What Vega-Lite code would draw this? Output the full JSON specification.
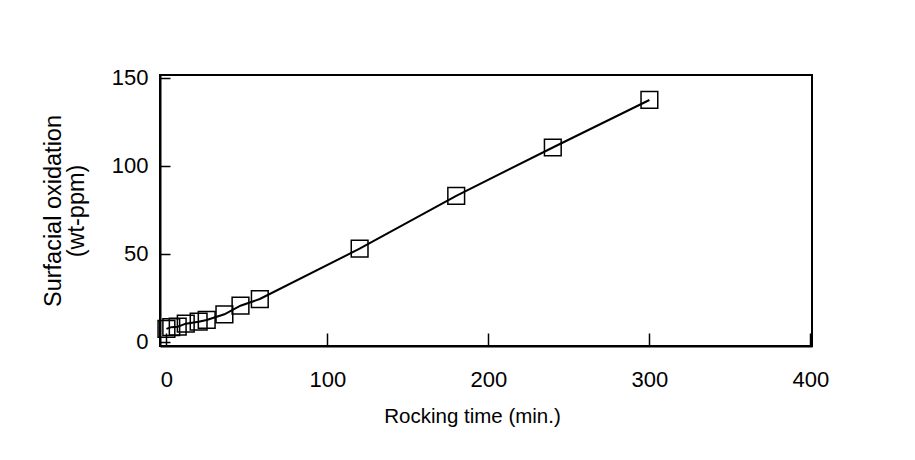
{
  "$schema": "https://vega.github.io/schema/vega-lite/v6.json",
  "autosize": "none",
  "width": 652,
  "height": 271,
  "padding": {"left": 160, "top": 75, "right": 103, "bottom": 114},
  "background": "white",
  "data": {
    "values": [
      {"time": 0, "ox": 7.4},
      {"time": 3, "ox": 8.4},
      {"time": 7, "ox": 8.7},
      {"time": 12, "ox": 10.4},
      {"time": 20, "ox": 11.5},
      {"time": 25, "ox": 12.5},
      {"time": 36, "ox": 15.7},
      {"time": 46, "ox": 20.6},
      {"time": 58, "ox": 24.4},
      {"time": 120, "ox": 53},
      {"time": 180, "ox": 83},
      {"time": 240, "ox": 110.5},
      {"time": 300, "ox": 137.5}
    ]
  },
  "encoding": {
    "x": {
      "field": "time",
      "type": "quantitative",
      "scale": {"domain": [-4, 401], "nice": false, "zero": false},
      "axis": {
        "values": [0, 100, 200, 300, 400],
        "grid": false,
        "tickSize": -13,
        "tickWidth": 1.5,
        "tickColor": "black",
        "domainColor": "black",
        "domainWidth": 2,
        "labelFontSize": 22,
        "labelColor": "black",
        "labelPadding": 36,
        "title": "Rocking time (min.)",
        "titleFontSize": 20.5,
        "titleFontWeight": "normal",
        "titleColor": "black",
        "titlePadding": 16,
        "titleX": 312
      }
    },
    "y": {
      "field": "ox",
      "type": "quantitative",
      "scale": {"domain": [-2.3, 151.7], "nice": false, "zero": false},
      "axis": {
        "values": [0, 50, 100, 150],
        "grid": false,
        "tickSize": -10,
        "tickWidth": 1.5,
        "tickColor": "black",
        "domainColor": "black",
        "domainWidth": 2,
        "labelFontSize": 22,
        "labelColor": "black",
        "labelPadding": 22,
        "title": ["Surfacial oxidation", "(wt-ppm)"],
        "titleFontSize": 23.5,
        "titleFontWeight": "normal",
        "titleColor": "black",
        "titleLineHeight": 23,
        "titlePadding": 23
      }
    }
  },
  "layer": [
    {"mark": {"type": "line", "color": "black", "strokeWidth": 2}},
    {"mark": {"type": "point", "shape": "square", "filled": false, "color": "black", "size": 280, "strokeWidth": 1.5, "opacity": 1}}
  ],
  "config": {
    "view": {"stroke": "black", "strokeWidth": 2},
    "font": "Liberation Sans"
  }
}
